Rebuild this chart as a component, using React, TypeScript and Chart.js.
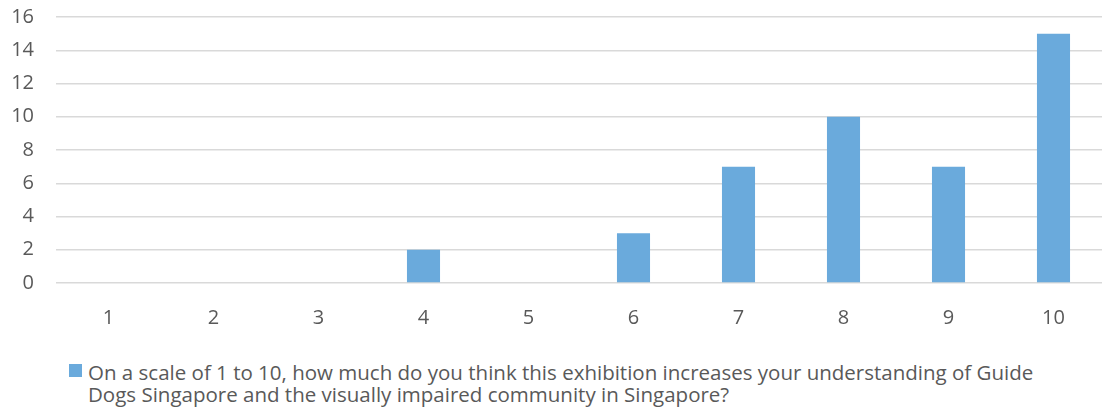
import React, { useEffect, useRef } from "react";
import { Chart, registerables } from "chart.js";

Chart.register(...registerables);

const categories = ["1", "2", "3", "4", "5", "6", "7", "8", "9", "10"];
const values = [0, 0, 0, 2, 0, 3, 7, 10, 7, 15];
const seriesLabel =
  "On a scale of 1 to 10, how much do you think this exhibition increases your understanding of Guide Dogs Singapore and the visually impaired community in Singapore?";
const yMax = 16;
const yStep = 2;

const BAR_COLOR = "#6aaadc";
const TEXT_COLOR = "#595959";
const FONT = "'Open Sans', 'Noto Sans', sans-serif";

export default function App() {
  const ref = useRef<HTMLCanvasElement | null>(null);

  useEffect(() => {
    if (!ref.current) return;
    const chart = new Chart(ref.current, {
      type: "bar",
      data: {
        labels: categories,
        datasets: [
          {
            label: seriesLabel,
            data: values,
            backgroundColor: BAR_COLOR,
            borderWidth: 0,
            categoryPercentage: 0.315,
            barPercentage: 1,
          },
        ],
      },
      options: {
        animation: false,
        responsive: false,
        maintainAspectRatio: false,
        layout: { padding: { top: 17, right: 2, left: 0, bottom: 0 } },
        plugins: {
          legend: { display: false },
          tooltip: { enabled: false },
        },
        scales: {
          x: {
            grid: { display: false },
            border: { display: false },
            ticks: {
              color: TEXT_COLOR,
              font: { family: FONT, size: 20 },
              padding: 15,
            },
            afterFit: (s: any) => {
              s.height = 52;
              s.paddingLeft = 0;
              s.paddingRight = 0;
            },
          },
          y: {
            min: 0,
            max: yMax,
            grid: { color: "#d9d9d9", lineWidth: 1.5, drawTicks: false },
            border: { display: false },
            ticks: {
              stepSize: yStep,
              color: TEXT_COLOR,
              font: { family: FONT, size: 20 },
              padding: 22,
            },
            afterFit: (s: any) => {
              s.width = 56;
              s.paddingTop = 0;
              s.paddingBottom = 0;
            },
          },
        },
      },
    });
    return () => chart.destroy();
  }, []);

  return (
    <div
      style={{
        position: "fixed",
        left: 0,
        top: 0,
        width: 1102,
        height: 413,
        background: "#fff",
        fontFamily: FONT,
        overflow: "hidden",
      }}
    >
      <canvas ref={ref} width={1108} height={335} style={{ display: "block" }} />
      <div
        style={{
          position: "absolute",
          left: 69,
          top: 361,
          width: 1000,
          display: "flex",
          alignItems: "flex-start",
          color: TEXT_COLOR,
          fontSize: 20.5,
          lineHeight: "22px",
        }}
      >
        <span
          style={{
            display: "inline-block",
            width: 13,
            height: 13,
            background: BAR_COLOR,
            marginTop: 3,
            marginRight: 6,
            flex: "0 0 auto",
          }}
        />
        <span style={{ width: 960 }}>{seriesLabel}</span>
      </div>
    </div>
  );
}
